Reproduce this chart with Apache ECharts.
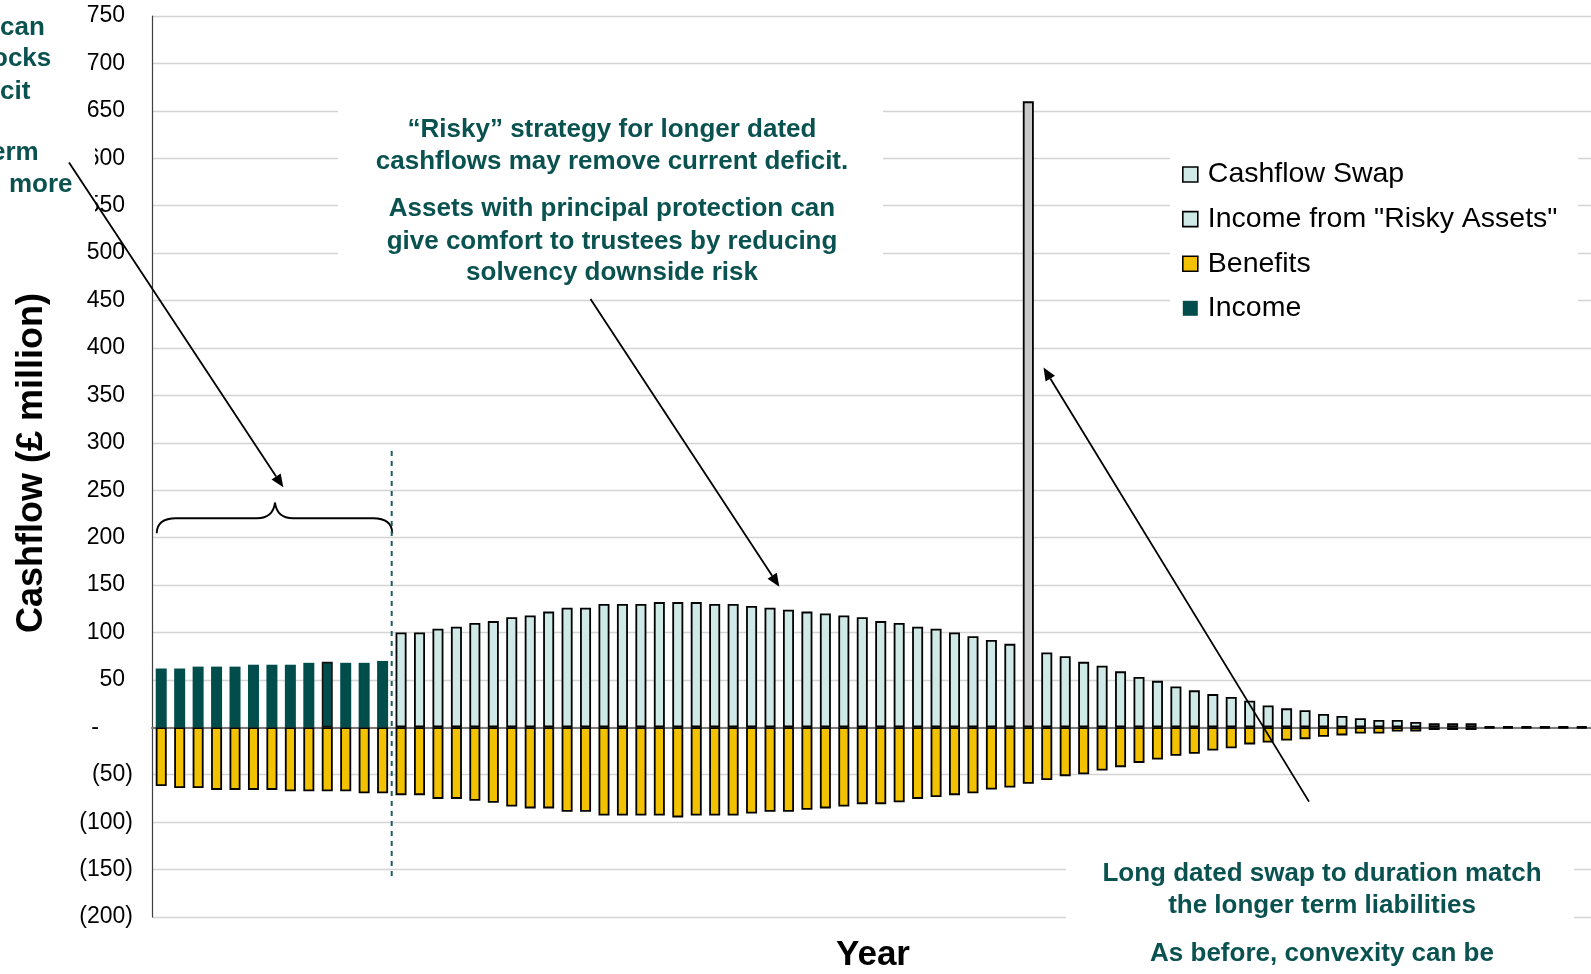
<!DOCTYPE html>
<html>
<head>
<meta charset="utf-8">
<script src="https://cdn.jsdelivr.net/npm/echarts@6/dist/echarts.min.js"></script>
<style>
  html, body { margin: 0; padding: 0; background: #fff; }
  #chart { width: 1591px; height: 974px; }
</style>
</head>
<body>
<div id="chart"></div>
<script>
// Projected scheme cashflows by year (£ million)
const years = [1, 2, 3, 4, 5, 6, 7, 8, 9, 10, 11, 12, 13, 14, 15, 16, 17, 18, 19, 20,
  21, 22, 23, 24, 25, 26, 27, 28, 29, 30, 31, 32, 33, 34, 35, 36, 37, 38, 39, 40,
  41, 42, 43, 44, 45, 46, 47, 48, 49, 50, 51, 52, 53, 54, 55, 56, 57, 58, 59, 60,
  61, 62, 63, 64, 65, 66, 67, 68, 69, 70, 71, 72, 73, 74, 75, 76, 77, 78];

// Income from matching assets, years 1-13
const income = [62, 62, 64, 64, 64, 66, 66, 66, 68, 69, 68, 68, 70];

// Income from "risky" assets, years 14-78 (year 48 is the swap payment)
const riskyIncome = [100, 100, 104, 106, 110, 112, 116, 118, 122, 126, 126, 130, 130, 130,
  132, 132, 132, 130, 130, 128, 126, 124, 122, 120, 118, 116, 112, 110, 106, 104, 100, 96,
  92, 88, null, 79, 75, 69, 65, 59, 53, 49, 43, 39, 35, 32, 28, 23, 20, 18, 14, 12, 9.5,
  7.7, 7.7, 5.6, 4.2, 4.2, 4.2, 1, 1, 1, 1, 1, 1];

// Single long dated swap payment
const swapYear = 48;
const cashflowSwap = 660;

// Benefit outgo, years 1-78
const benefits = [-62, -64, -64, -66, -66, -66, -66, -67.5, -67.5, -67.5, -67.5, -69.5, -69.5,
  -71.5, -71.5, -75.5, -75.5, -77.5, -79.5, -83.5, -85.5,
  -85.5, -89, -89, -93, -93, -93, -93, -95, -93, -93, -93, -91, -89, -89, -87, -85.5, -83.5,
  -81, -81, -79, -75.5, -73.5, -71.5, -69.5, -65.5, -63.5,
  -59.5, -55.5, -51.5, -49.5, -45.5, -42, -37.5, -34, -30, -28, -24.5, -22, -18, -16, -14,
  -12.5, -10, -8.5, -6.5, -6.5, -4.5, -4.3, -2.8, -2.8, -2.8, -1, -1, -1, -1, -1, -1];

const seriesNames = ['Cashflow Swap', 'Income from "Risky Assets"', 'Benefits', 'Income'];

const FONT = '"Liberation Sans", Arial, sans-serif';
const TEAL_TEXT = '#0a5250';
const DARK_TEAL = '#004d4b';
const LIGHT_TEAL = '#cfe9e7';
const GOLD = '#f2c100';
const SWAP_GREY = '#c8c8c8';

// Build full-length series from the year-aligned arrays
const riskyStart = income.length;
const swapIndex = years.indexOf(swapYear);
const incomeData = years.map((_, i) => {
  if (i >= income.length) return null;
  // one year's bar carries an outline
  if (i === 9) return { value: income[i], itemStyle: { borderColor: '#111', borderWidth: 1.6 } };
  return income[i];
});
const riskyData = years.map((_, i) => (i >= riskyStart ? riskyIncome[i - riskyStart] : null));
const swapData = years.map((_, i) => (i === swapIndex ? cashflowSwap : null));

const chart = echarts.init(document.getElementById('chart'), null, { renderer: 'canvas' });

const INK = { stroke: '#000', lineWidth: 1.9, fill: null };

function arrow(x1, y1, x2, y2) {
  const ang = Math.atan2(y2 - y1, x2 - x1);
  const len = 13, half = 5.5;
  const bx = x2 - len * Math.cos(ang), by = y2 - len * Math.sin(ang);
  const px = -Math.sin(ang) * half, py = Math.cos(ang) * half;
  return [
    { type: 'line', z: 30, shape: { x1: x1, y1: y1, x2: bx, y2: by },
      style: { stroke: '#000', lineWidth: 1.8 } },
    { type: 'polygon', z: 30, shape: { points: [[x2, y2], [bx + px, by + py], [bx - px, by - py]] },
      style: { fill: '#000' } }
  ];
}

function curve(x1, y1, cx, cy, x2, y2) {
  return { type: 'bezierCurve', z: 30,
    shape: { x1: x1, y1: y1, x2: x2, y2: y2, cpx1: cx, cpy1: cy }, style: INK };
}
function seg(x1, y1, x2, y2) {
  return { type: 'line', z: 30, shape: { x1: x1, y1: y1, x2: x2, y2: y2 }, style: INK };
}

function note(text, x, y, align) {
  return { type: 'text', z: 30, x: x, y: y,
    style: { text: text, fill: TEAL_TEXT, font: 'bold 26px ' + FONT,
      align: align || 'center', verticalAlign: 'middle' } };
}

function whiteBox(x, y, w, h) {
  return { type: 'rect', z: 1, shape: { x: x, y: y, width: w, height: h },
    style: { fill: '#fff' } };
}

const graphics = [
  whiteBox(338, 105, 545, 185),
  whiteBox(1066, 845, 508, 129),
  whiteBox(1170, 125, 408, 205),
  whiteBox(0, 128, 95, 100),

  // side notes running off the left edge
  note('can', 0, 27.5, 'left'),
  note('ocks', -8, 59, 'left'),
  note('cit', 0, 91.5, 'left'),
  note('erm', -9, 153, 'left'),
  note('more', 9, 185, 'left'),

  note('\u201cRisky\u201d strategy for longer dated', 612, 130),
  note('cashflows may remove current deficit.', 612, 161.5),
  note('Assets with principal protection can', 612, 209),
  note('give comfort to trustees by reducing', 612, 241.5),
  note('solvency downside risk', 612, 273),

  note('Long dated swap to duration match', 1322, 874),
  note('the longer term liabilities', 1322, 905.5),
  note('As before, convexity can be', 1322, 954),

  // axis titles
  { type: 'text', z: 30, x: 32.5, y: 463, rotation: Math.PI / 2,
    style: { text: 'Cashflow (\u00a3 million)', fill: '#000', font: 'bold 36px ' + FONT,
      align: 'center', verticalAlign: 'middle' } },
  { type: 'text', z: 30, x: 873, y: 955,
    style: { text: 'Year', fill: '#000', font: 'bold 35px ' + FONT,
      align: 'center', verticalAlign: 'middle' } },

  // brace over the matched years
  curve(156.7, 533.3, 157, 518.3, 176, 518.3),
  seg(176, 518.3, 257, 518.3),
  curve(257, 518.3, 273, 518.3, 275, 502.7),
  curve(275, 502.7, 277, 518.3, 293, 518.3),
  seg(293, 518.3, 373, 518.3),
  curve(373, 518.3, 392, 518.3, 392.3, 533.3),

  // boundary between matched and risky years
  { type: 'line', z: 30, shape: { x1: 391.7, y1: 451, x2: 391.7, y2: 876 },
    style: { stroke: '#1d5e5a', lineWidth: 2, lineDash: [5, 5] } }
].concat(arrow(69, 162.5, 283.3, 487.3))
 .concat(arrow(590.5, 299, 779.3, 586.7))
 .concat(arrow(1309, 801.6, 1043.5, 367.5));

const barBorder = { borderColor: '#000', borderWidth: 1.8 };

const option = {
  animation: false,
  backgroundColor: '#fff',
  textStyle: { fontFamily: FONT },
  grid: { left: 152, right: 0, top: 16, bottom: 57, containLabel: false },
  legend: {
    orient: 'vertical', left: 1182, top: 159.5, padding: 0,
    itemWidth: 15, itemHeight: 15, itemGap: 14.6, icon: 'rect',
    selectedMode: false, z: 20,
    textStyle: { fontSize: 28.5, fontFamily: FONT, color: '#000', lineHeight: 30, padding: [0, 0, 0, 5] },
    data: [
      { name: seriesNames[0], itemStyle: { color: LIGHT_TEAL, borderColor: '#000', borderWidth: 1.6 } },
      { name: seriesNames[1], itemStyle: { borderWidth: 1.6 } },
      { name: seriesNames[2], itemStyle: { borderWidth: 1.6 } },
      { name: seriesNames[3] }
    ]
  },
  xAxis: {
    type: 'category', data: years, boundaryGap: true,
    axisLine: { onZero: true, lineStyle: { color: '#7a7a7a', width: 2.2 } },
    axisTick: { show: false }, axisLabel: { show: false }, splitLine: { show: false }
  },
  yAxis: {
    type: 'value', min: -200, max: 750, interval: 50,
    axisLine: { show: true, lineStyle: { color: '#404040', width: 1.2 } },
    axisTick: { show: false },
    splitLine: { lineStyle: { color: '#d4d4d4', width: 1.3 } },
    axisLabel: {
      margin: 19, color: '#000', fontSize: 23, fontFamily: FONT,
      formatter: function (v) {
        if (v > 0) return '{p|' + v + '}';
        if (v < 0) return '{n|(' + (-v) + ')}';
        return '{z|-}';
      },
      rich: {
        p: { fontSize: 23, fontFamily: FONT, color: '#000', padding: [0, 8, 0, 0] },
        n: { fontSize: 23, fontFamily: FONT, color: '#000' },
        z: { fontSize: 23, fontFamily: FONT, color: '#000', padding: [0, 34, 0, 0] }
      }
    }
  },
  series: [
    { name: seriesNames[0], type: 'bar', stack: 'cf', barWidth: 11, data: swapData,
      itemStyle: Object.assign({ color: SWAP_GREY }, barBorder) },
    { name: seriesNames[1], type: 'bar', stack: 'cf', barWidth: 11, data: riskyData,
      itemStyle: Object.assign({ color: LIGHT_TEAL }, barBorder) },
    { name: seriesNames[2], type: 'bar', stack: 'cf', barWidth: 11, data: benefits,
      itemStyle: Object.assign({ color: GOLD }, barBorder) },
    { name: seriesNames[3], type: 'bar', stack: 'cf', barWidth: 11, data: incomeData,
      itemStyle: { color: DARK_TEAL } }
  ],
  graphic: { elements: graphics }
};

chart.setOption(option);
</script>
</body>
</html>
